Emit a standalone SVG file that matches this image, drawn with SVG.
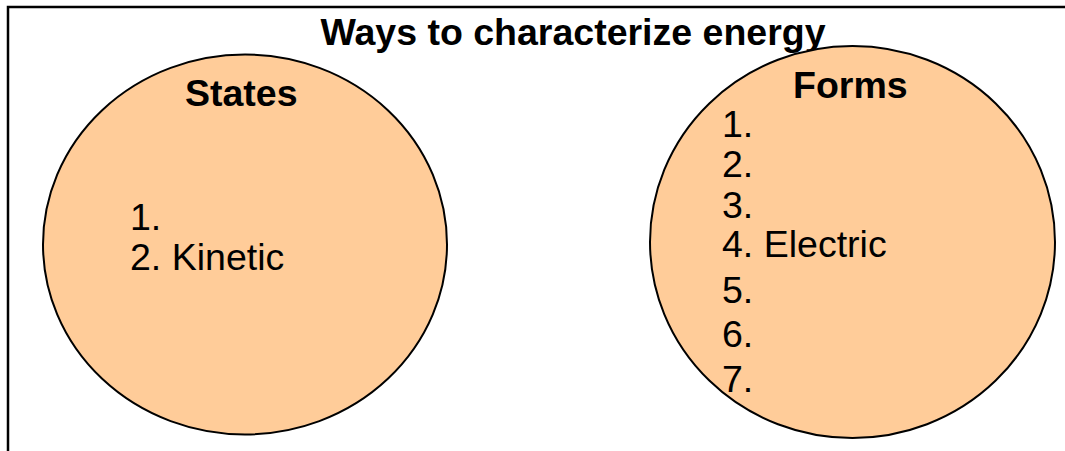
<svg xmlns="http://www.w3.org/2000/svg" width="1065" height="451" viewBox="0 0 1065 451">
<style>
.t{font-family:"Liberation Sans",Arial,sans-serif;fill:#000}
.b{font-weight:bold;font-size:37.5px}
.r{font-size:37.5px}
.c{fill:#FFCC99;stroke:#000;stroke-width:2}
</style>
<rect width="1065" height="451" fill="#fff"/>
<path d="M8,451 V7 H1065" fill="none" stroke="#000" stroke-width="2.5"/>
<text class="t b" x="573" y="45" text-anchor="middle">Ways to characterize energy</text>
<g id="states">
<ellipse class="c" cx="245" cy="244.5" rx="202" ry="190"/>
<text class="t b" x="185" y="106">States</text>
<text class="t r" x="130" y="230">1.</text>
<text class="t r" x="130" y="270">2. Kinetic</text>
</g>
<g id="forms">
<ellipse class="c" cx="852.5" cy="242" rx="202.5" ry="196"/>
<text class="t b" x="793" y="98">Forms</text>
<text class="t r" x="722" y="137">1.</text>
<text class="t r" x="722" y="177">2.</text>
<text class="t r" x="722" y="218">3.</text>
<text class="t r" x="722" y="257">4. Electric</text>
<text class="t r" x="722" y="303">5.</text>
<text class="t r" x="722" y="347">6.</text>
<text class="t r" x="722" y="392">7.</text>
</g>
<g id="connectors"/>
</svg>
